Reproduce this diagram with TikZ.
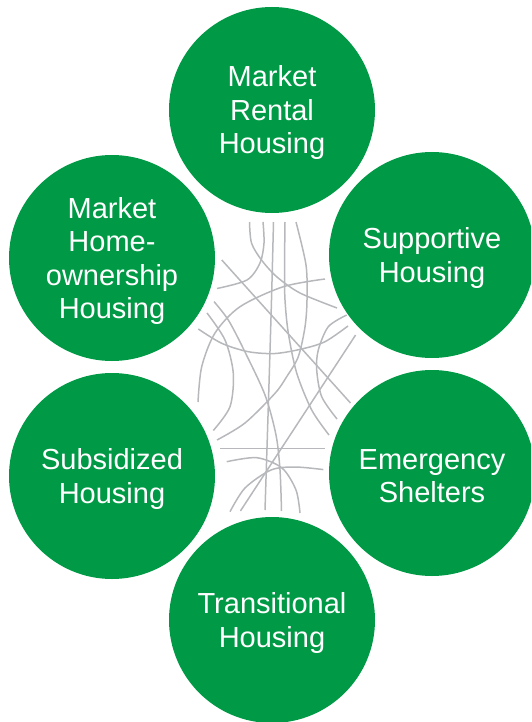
\documentclass[tikz,border=0pt]{standalone}
\usepackage{fontspec}
\setmainfont{Liberation Sans}
\definecolor{hgreen}{RGB}{0,154,70}
\definecolor{lgray}{RGB}{183,184,188}
\begin{document}
\begin{tikzpicture}[x=1pt,y=-1pt,
  hcircle/.style={circle,fill=hgreen,minimum size=206pt,inner sep=0pt},
  htext/.style={text=white,align=center,inner sep=0pt,font=\fontsize{29}{33.5}\selectfont},
  web/.style={draw=lgray,line width=1.5pt}]
\useasboundingbox (0,0) rectangle (531,722);
\clip (0,0) rectangle (531,722);
% web of lines
\draw[web] plot[smooth] coordinates {(249.5,222) (251.5,243) (261.5,260) (277,277) (300,293) (337,308)};
\draw[web] plot[smooth] coordinates {(263,222) (264,243) (260,263) (247,280) (217,288.5)};
\draw[web] plot[smooth] coordinates {(273.5,222) (271.5,300) (268.5,400) (265,510)};
\draw[web] plot[smooth] coordinates {(285,222) (284.5,270) (285,300) (288.3,333) (296.7,373) (311.7,410) (329,435)};
\draw[web] plot[smooth] coordinates {(296,222) (306,265) (307,300) (305,327) (298.3,356.7) (286.7,376.7) (275,393.3) (245,423) (217,440)};
\draw[web] (221.8,260) -- (350.5,403);
\draw[web] plot[smooth] coordinates {(325,279) (283.3,286.7) (240,306.7) (215,333) (201.7,366.7) (198,402)};
\draw[web] plot[smooth] coordinates {(198.3,329) (221.7,343.3) (248.3,351.7) (275,353.5) (301.7,349) (325,341.7) (348,326)};
\draw[web] plot[smooth] coordinates {(207,313) (225,340) (233.3,373.3) (230,406.7) (213.3,430.5)};
\draw[web] plot[smooth] coordinates {(214,301.6) (228.3,320) (244,350) (265,395) (276,435) (280,470) (281.5,511)};
\draw[web] plot[smooth] coordinates {(346.7,315) (328.3,326.7) (318.3,350) (316.7,370) (321.7,396.7) (337,419)};
\draw[web] (355.6,335) -- (240.4,511);
\draw[web] (220,448.5) -- (325,448.5);
\draw[web] plot[smooth] coordinates {(226.7,461.7) (256.7,457.7) (282,468) (296,490) (300,513)};
\draw[web] plot[smooth] coordinates {(230,511.7) (245,488) (271,470) (295,467) (323.4,469.6)};
% circles
\node[hcircle] (mr) at (272,110) {};
\node[hcircle] (sh) at (432,255) {};
\node[hcircle] (es) at (432,473) {};
\node[hcircle] (th) at (272,620) {};
\node[hcircle] (su) at (112,476) {};
\node[hcircle] (mh) at (112,258) {};
% labels
\node[htext] (mrt) at ([yshift=-3pt]mr.center) {Market\\Rental\\Housing};
\node[htext] (sht) at ([yshift=-3pt]sh.center) {Supportive\\Housing};
\node[htext] (est) at ([yshift=-3pt]es.center) {Emergency\\Shelters};
\node[htext] (tht) at ([yshift=-3pt]th.center) {Transitional\\Housing};
\node[htext] (sut) at ([yshift=-3pt]su.center) {Subsidized\\Housing};
\node[htext] (mht) at ([yshift=-3pt]mh.center) {Market\\Home-\\ownership\\Housing};
\end{tikzpicture}
\end{document}
